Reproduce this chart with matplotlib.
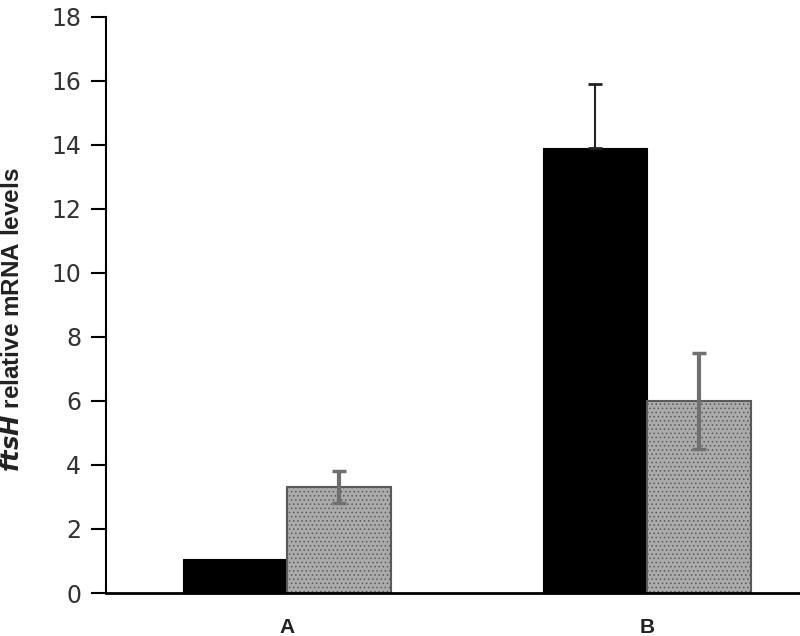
import matplotlib
matplotlib.use("Agg")
import matplotlib.pyplot as plt
import numpy as np

plt.rcParams['font.family'] = ['Liberation Sans', 'DejaVu Sans']
plt.rcParams['hatch.color'] = '#8a8a8a'
plt.rcParams['hatch.linewidth'] = 0.6

categories = ['A', 'B']
black_vals = [1.05, 13.9]
black_err = [0.0, 2.0]
gray_vals = [3.3, 6.0]
gray_err = [0.5, 1.5]
yticks = [0, 2, 4, 6, 8, 10, 12, 14, 16, 18]

fig = plt.figure(figsize=(8, 6.36), dpi=100)
ax = fig.add_axes([0.1325, 0.0676, 0.8675, 0.906])

x = np.arange(len(categories))
w = 0.29
bv = np.array(black_vals)
be = np.array(black_err)
ax.bar(x - w / 2, bv, w, color='black', edgecolor='black', linewidth=0.8)
m = be > 0
ax.errorbar((x - w / 2)[m], bv[m], yerr=[np.zeros(m.sum()), be[m]],
            fmt='none', ecolor='#222222', elinewidth=1.5, capsize=5, capthick=2)
ax.bar(x + w / 2, gray_vals, w, color='#ababab', edgecolor='#5a5a5a', linewidth=1.5,
       hatch='....')
ax.errorbar(x + w / 2, gray_vals, yerr=gray_err, fmt='none', ecolor='#707070',
            elinewidth=3, capsize=5, capthick=2.5)

ax.set_xlim(-0.503, 1.425)
ax.set_ylim(0, 18)
ax.set_yticks(yticks)
ax.set_yticklabels([str(t) for t in yticks], fontsize=17, color='#333333',
                   family=['DejaVu Sans'])
ax.set_xticks(x)
ax.set_xticklabels(categories, fontsize=15, fontweight='bold', color='#222222')
ax.tick_params(axis='x', length=0, pad=18)
ax.tick_params(axis='y', direction='out', length=11, width=1.5, pad=7)
for s in ['top', 'right']:
    ax.spines[s].set_visible(False)
ax.spines['left'].set_linewidth(1.5)
ax.spines['bottom'].set_linewidth(2)

ax.set_ylabel(r'$\mathbfit{ftsH}$ relative mRNA levels', fontsize=17.5,
              fontweight='bold', color='#222222')
ax.yaxis.set_label_coords(-0.118, 0.474)

fig.savefig('out.png', dpi=100)
